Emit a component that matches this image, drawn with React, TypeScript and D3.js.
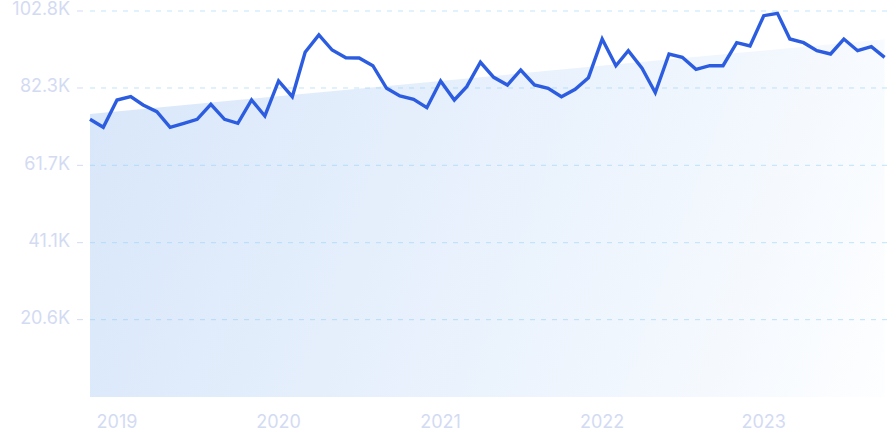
import React from "react";
import * as d3 from "d3";

const startMonth = "2018-11";
const values = [
  73.96, 71.83, 79.1, 79.98, 77.77, 75.98, 71.83, 72.89, 73.96, 77.95, 73.96, 72.89,
  79.1, 74.84, 84.16, 79.98, 91.8, 96.41, 92.41, 90.36, 90.28, 88.23, 82.21, 80.16,
  79.28, 77.05, 84.16, 79.1, 82.64, 89.14, 85.14, 83.09, 87.09, 83.09, 82.21, 79.98,
  81.95, 85.04, 95.34, 88.23, 92.23, 87.54, 81.04, 91.35, 90.47, 87.27, 88.23, 88.23,
  94.36, 93.48, 101.55, 102.19, 95.34, 94.36, 92.23, 91.35, 95.34, 92.23, 93.29, 90.47,
];
const trendStartEnd = [75.4, 95.3];
const yTicks = [20.6, 41.1, 61.7, 82.3, 102.8];
const yTickLabels = ["20.6K", "41.1K", "61.7K", "82.3K", "102.8K"];
const yearLabels = ["2019", "2020", "2021", "2022", "2023"];

const W = 888;
const H = 443;

export default function App() {
  const parse = d3.timeParse("%Y-%m");
  const start = parse(startMonth) as Date;
  const dates = values.map((_, i) => d3.timeMonth.offset(start, i));
  const x = d3
    .scaleTime()
    .domain([dates[0], dates[dates.length - 1]])
    .range([90, 884.6]);
  const y = d3.scaleLinear().domain([0, 102.8]).range([397, 11]);

  const line = d3
    .line<number>()
    .x((_, i) => x(dates[i]))
    .y((d) => y(d));

  const trendPts: [Date, number][] = [
    [dates[0], trendStartEnd[0]],
    [dates[dates.length - 1], trendStartEnd[1]],
  ];
  const area = d3
    .area<[Date, number]>()
    .x((d) => x(d[0]))
    .y0(y(0))
    .y1((d) => y(d[1]));

  const font = "Inter, 'Noto Sans', sans-serif";
  const labelColor = "#d3dbf3";

  return (
    <svg
      width={W}
      height={H}
      style={{ position: "absolute", left: 0, top: 0, display: "block" }}
    >
      <defs>
        <linearGradient
          id="fillGrad"
          gradientUnits="userSpaceOnUse"
          x1={90}
          y1={114}
          x2={885}
          y2={397}
        >
          <stop offset="0" stopColor="#d9e7fa" />
          <stop offset="0.55" stopColor="#ebf3fd" />
          <stop offset="1" stopColor="#fdfeff" />
        </linearGradient>
      </defs>
      <path d={area(trendPts) || ""} fill="url(#fillGrad)" />
      {yTicks.map((t, i) => (
        <g key={t}>
          <line
            x1={77}
            x2={83}
            y1={y(t)}
            y2={y(t)}
            stroke={labelColor}
            strokeWidth={1}
          />
          <line
            x1={90}
            x2={W}
            y1={y(t)}
            y2={y(t)}
            stroke="#8fd0fa"
            strokeOpacity={0.55}
            strokeWidth={1}
            strokeDasharray="5 6"
          />
          <text
            x={70}
            y={y(t) - 2}
            dy="0.35em"
            textAnchor="end"
            fontFamily={font}
            fontSize={18}
            fill={labelColor}
          >
            {yTickLabels[i]}
          </text>
        </g>
      ))}
      <path
        d={line(values) || ""}
        fill="none"
        stroke="#2c5de0"
        strokeWidth={3.4}
        strokeLinejoin="miter"
      />
      {yearLabels.map((yl) => (
        <text
          key={yl}
          x={x(new Date(+yl, 0, 1))}
          y={428}
          textAnchor="middle"
          fontFamily={font}
          fontSize={18}
          fill={labelColor}
        >
          {yl}
        </text>
      ))}
    </svg>
  );
}
